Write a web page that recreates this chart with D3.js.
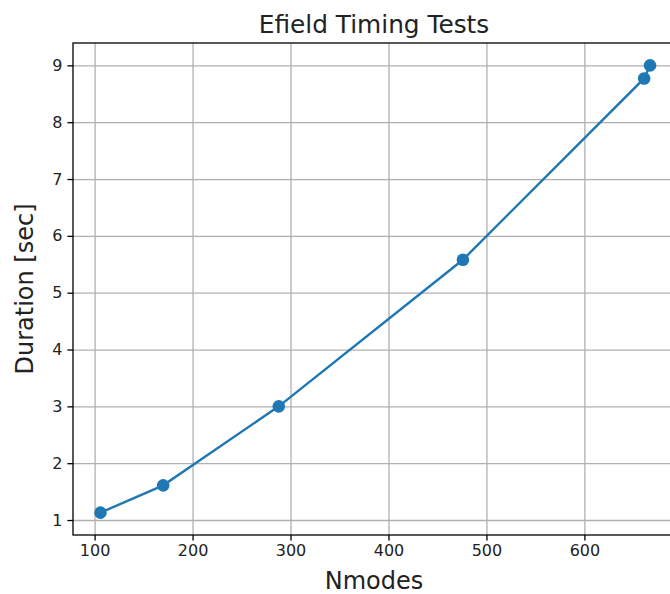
<!DOCTYPE html>
<html>
<head>
<meta charset="utf-8">
<script src="https://cdn.jsdelivr.net/npm/d3@7"></script>
<style>
  body { margin: 0; background: #fff; }
  svg { display: block; font-family: "DejaVu Sans", sans-serif; }
</style>
</head>
<body>
<div id="viz"></div>
<script>
var width = 670;
var height = 594;

// values
var nmodes = [106, 170, 288, 476, 661, 667];
var duration = [1.13, 1.61, 3.0, 5.58, 8.77, 9.0];
var xTicks = [100, 200, 300, 400, 500, 600];
var yTicks = [1, 2, 3, 4, 5, 6, 7, 8, 9];

var data = nmodes.map(function(d, i){ return {n: d, t: duration[i]}; });

// right edge of the axes runs just past the window, as in the original
var plotLeft = 73, plotRight = 677.5, plotTop = 43, plotBottom = 535;

// matplotlib style 5% margins around the data
var xPad = (d3.max(nmodes) - d3.min(nmodes)) * 0.05;
var yPad = (d3.max(duration) - d3.min(duration)) * 0.05;

var x = d3.scaleLinear()
	.domain([d3.min(nmodes) - xPad, d3.max(nmodes) + xPad])
	.range([plotLeft, plotRight]);

var y = d3.scaleLinear()
	.domain([d3.min(duration) - yPad, d3.max(duration) + yPad])
	.range([plotBottom, plotTop]);

var canvas = d3.select('#viz')
	.append('svg')
	.attr("width", width)
	.attr("height", height);

// grid
canvas.append("g")
	.attr("transform", "translate(0," + plotBottom + ")")
	.call(d3.axisBottom(x).tickValues(xTicks).tickSize(-(plotBottom - plotTop)).tickFormat(""))
	.call(function(g){
		g.select(".domain").remove();
		g.selectAll("line").attr("stroke", "#b0b0b0").attr("stroke-width", 1.3);
	});

canvas.append("g")
	.attr("transform", "translate(" + plotLeft + ",0)")
	.call(d3.axisLeft(y).tickValues(yTicks).tickSize(-(plotRight - plotLeft)).tickFormat(""))
	.call(function(g){
		g.select(".domain").remove();
		g.selectAll("line").attr("stroke", "#b0b0b0").attr("stroke-width", 1.3);
	});

// line and markers
var line = d3.line()
	.x(function(d){ return x(d.n); })
	.y(function(d){ return y(d.t); });

canvas.append("path")
	.datum(data)
	.attr("d", line)
	.attr("fill", "none")
	.attr("stroke", "#1f77b4")
	.attr("stroke-width", 2.4);

canvas.append("g")
	.selectAll("circle")
	.data(data)
	.enter()
		.append("circle")
		.attr("cx", function(d){ return x(d.n); })
		.attr("cy", function(d){ return y(d.t); })
		.attr("r", 6.3)
		.attr("fill", "#1f77b4");

// frame
canvas.append("rect")
	.attr("x", plotLeft)
	.attr("y", plotTop)
	.attr("width", plotRight - plotLeft)
	.attr("height", plotBottom - plotTop)
	.attr("fill", "none")
	.attr("stroke", "#000")
	.attr("stroke-width", 1.3);

// axes
var xAxis = canvas.append("g")
	.attr("transform", "translate(0," + plotBottom + ")")
	.call(d3.axisBottom(x).tickValues(xTicks).tickSize(5.6).tickPadding(4).tickFormat(d3.format("d")));

var yAxis = canvas.append("g")
	.attr("transform", "translate(" + plotLeft + ",0)")
	.call(d3.axisLeft(y).tickValues(yTicks).tickSize(5.6).tickPadding(5).tickFormat(d3.format("d")));

[xAxis, yAxis].forEach(function(g){
	g.select(".domain").remove();
	g.selectAll("line").attr("stroke", "#000").attr("stroke-width", 1.3);
	g.selectAll("text")
		.attr("font-family", "DejaVu Sans")
		.attr("font-size", 16)
		.attr("fill", "#222");
});

// labels
canvas.append("text")
	.attr("x", 374)
	.attr("y", 33)
	.attr("text-anchor", "middle")
	.attr("font-size", 24.8)
	.attr("fill", "#222")
	.text("Efield Timing Tests");

canvas.append("text")
	.attr("x", 374)
	.attr("y", 589)
	.attr("text-anchor", "middle")
	.attr("font-size", 24)
	.attr("fill", "#222")
	.text("Nmodes");

canvas.append("text")
	.attr("transform", "translate(33," + (plotTop + plotBottom) / 2 + ") rotate(-90)")
	.attr("text-anchor", "middle")
	.attr("font-size", 24)
	.attr("fill", "#222")
	.text("Duration [sec]");
</script>
</body>
</html>
